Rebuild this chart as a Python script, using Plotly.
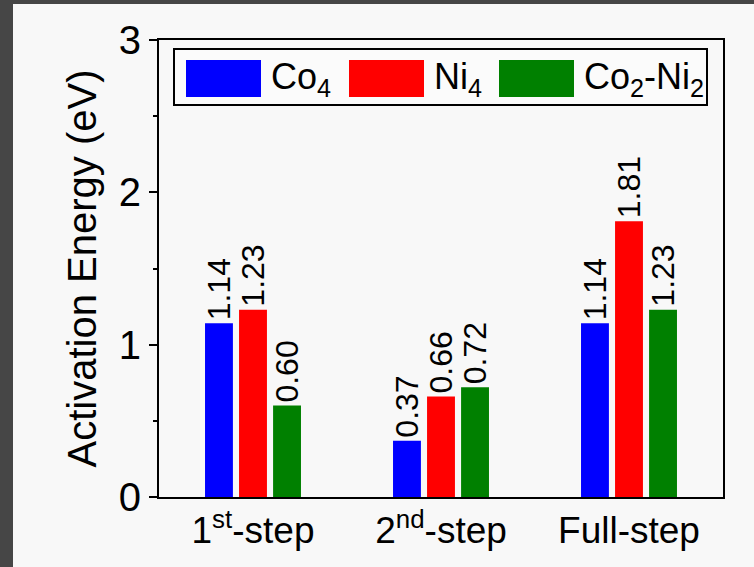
import plotly.graph_objects as go

# Activation energies (eV) for each reaction step
steps = ["1st-step", "2nd-step", "Full-step"]
step_labels = ["1<sup>st</sup>-step", "2<sup>nd</sup>-step", "Full-step"]
series_names = ["Co4", "Ni4", "Co2-Ni2"]
series_labels = ["Co<sub>4</sub>", "Ni<sub>4</sub>", "Co<sub>2</sub>-Ni<sub>2</sub>"]
co4 = [1.14, 0.37, 1.14]
ni4 = [1.23, 0.66, 1.81]
co2ni2 = [0.60, 0.72, 1.23]
colors = ["#0000ff", "#ff0000", "#008000"]

FONT = "Liberation Sans, Arial, sans-serif"
W, H = 754, 567
L, R, T, B = 159, 31, 40, 70
PW, PH = W - L - R, H - T - B


def px(x):
    return (x - L) / PW


def py(y):
    return (H - B - y) / PH


fig = go.Figure()
for name, vals, col in zip(series_names, [co4, ni4, co2ni2], colors):
    fig.add_trace(go.Bar(
        x=steps, y=vals, name=name, marker=dict(color=col, line=dict(width=0)),
        texttemplate="%{y:.2f}", textposition="outside", textangle=-90,
        constraintext="none", cliponaxis=False,
        textfont=dict(family=FONT, size=32, color="black"),
        showlegend=False,
    ))

shapes = [
    # dark outer frame strips
    dict(type="rect", xref="paper", yref="paper", x0=px(0), x1=px(13), y0=py(H), y1=py(0),
         fillcolor="#464646", line=dict(width=0), layer="below"),
    dict(type="rect", xref="paper", yref="paper", x0=px(0), x1=px(W), y0=py(4), y1=py(0),
         fillcolor="#464646", line=dict(width=0), layer="below"),
    # legend box
    dict(type="rect", xref="paper", yref="paper", x0=px(174), x1=px(707), y0=py(105), y1=py(49),
         fillcolor="#fbfbfb", line=dict(color="black", width=2)),
]
annotations = []
patch_x = [186, 349, 499]
text_x = [269, 432, 582]
for px0, tx, col, lab in zip(patch_x, text_x, colors, series_labels):
    shapes.append(dict(type="rect", xref="paper", yref="paper", x0=px(px0), x1=px(px0 + 75),
                       y0=py(97), y1=py(60), fillcolor=col, line=dict(width=0)))
    annotations.append(dict(xref="paper", yref="paper", x=px(tx), y=py(79), text=lab,
                            showarrow=False, xanchor="left", yanchor="middle",
                            font=dict(family=FONT, size=36, color="black")))

fig.update_layout(
    width=W, height=H,
    margin=dict(l=L, r=R, t=T, b=B, pad=0),
    paper_bgcolor="#f8f8f8", plot_bgcolor="#f8f8f8",
    barmode="group", bargap=0.457, bargroupgap=0.18,
    font=dict(family=FONT, color="black"),
    shapes=shapes, annotations=annotations,
    xaxis=dict(
        tickmode="array", tickvals=steps, ticktext=step_labels,
        range=[-0.5, 2.5], showline=True, mirror=True, linecolor="black", linewidth=2,
        ticks="", showgrid=False, zeroline=False,
        tickfont=dict(family=FONT, size=37, color="black"),
    ),
    yaxis=dict(
        range=[0, 3], dtick=1, tick0=0, showline=True, mirror=True, linecolor="black", linewidth=2,
        ticks="outside", ticklen=8, tickwidth=2, tickcolor="black",
        minor=dict(dtick=0.5, ticks="outside", ticklen=4, tickwidth=2, tickcolor="black"),
        showgrid=False, zeroline=False,
        tickfont=dict(family=FONT, size=40, color="black"),
        title=dict(text="Activation Energy (eV)", font=dict(family=FONT, size=40, color="black"),
                   standoff=10),
    ),
)

fig.write_html("out.html")
